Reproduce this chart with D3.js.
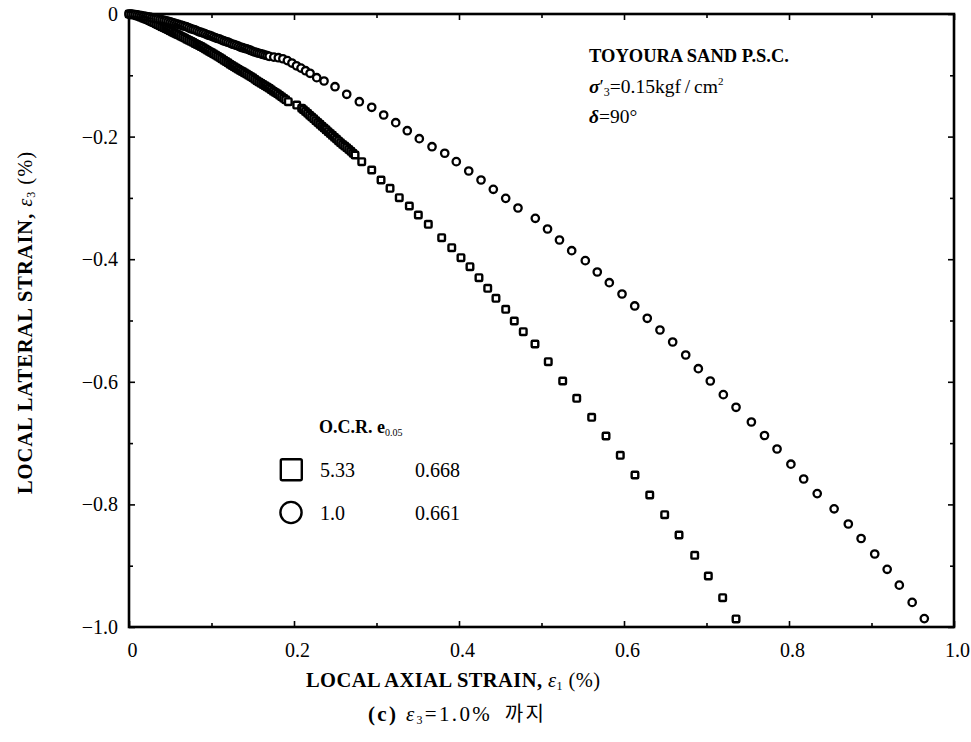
<!DOCTYPE html>
<html><head><meta charset="utf-8">
<script src="https://cdn.jsdelivr.net/npm/d3@7"></script>
<style>body{margin:0;background:#fff}</style>
</head><body>
<svg id="c" width="971" height="742" xmlns="http://www.w3.org/2000/svg"></svg>
<script>
// ---- data ----
const xTicks = [0, 0.2, 0.4, 0.6, 0.8, 1.0];
const xTickLabels = ["0", "0.2", "0.4", "0.6", "0.8", "1.0"];
const yTicks = [0, -0.2, -0.4, -0.6, -0.8, -1.0];
const yTickLabels = ["0", "\u22120.2", "\u22120.4", "\u22120.6", "\u22120.8", "\u22121.0"];
const xMinor = [0.1, 0.3, 0.5, 0.7, 0.9];
const yMinor = [-0.1, -0.3, -0.5, -0.7, -0.9];

// O.C.R. = 5.33 (squares): [axial strain e1 %, lateral strain e3 %]
const ocr533 = [
 [0.000,0.000],[0.0025,-0.0006],[0.005,-0.0012],[0.0075,-0.0018],[0.010,-0.003],[0.0125,-0.0042],
 [0.015,-0.0055],[0.0175,-0.007],[0.020,-0.008],[0.0225,-0.0095],[0.025,-0.011],[0.0275,-0.0125],
 [0.030,-0.014],[0.0325,-0.0158],[0.035,-0.0175],[0.0375,-0.0192],[0.040,-0.021],[0.0425,-0.0225],
 [0.045,-0.024],[0.0475,-0.0258],[0.050,-0.0275],[0.0525,-0.0292],[0.055,-0.031],[0.0575,-0.0325],
 [0.060,-0.034],[0.0625,-0.0358],[0.065,-0.0375],[0.0675,-0.0392],[0.070,-0.041],[0.0725,-0.0428],
 [0.075,-0.0445],[0.0775,-0.0462],[0.080,-0.048],[0.0825,-0.0498],[0.085,-0.0515],[0.0875,-0.0532],
 [0.090,-0.055],[0.0925,-0.057],[0.095,-0.059],[0.0975,-0.061],[0.100,-0.063],[0.1025,-0.065],
 [0.105,-0.067],[0.1075,-0.069],[0.110,-0.071],[0.1125,-0.0732],[0.115,-0.0755],[0.1175,-0.0775],
 [0.120,-0.0795],[0.1225,-0.0818],[0.125,-0.084],[0.1275,-0.086],[0.130,-0.088],[0.1325,-0.090],
 [0.135,-0.092],[0.1375,-0.094],[0.140,-0.096],[0.1425,-0.098],[0.145,-0.100],[0.1475,-0.102],
 [0.150,-0.104],[0.1525,-0.1065],[0.155,-0.109],[0.1575,-0.111],[0.160,-0.113],[0.1625,-0.115],
 [0.165,-0.117],[0.1675,-0.119],[0.170,-0.121],[0.1725,-0.1235],[0.175,-0.126],[0.1775,-0.128],
 [0.180,-0.130],[0.1825,-0.1325],[0.185,-0.135],[0.1875,-0.1375],[0.190,-0.140],
 [0.1931,-0.1431],[0.2033,-0.1485],
 [0.2093,-0.1538],[0.2115,-0.156],[0.214,-0.159],[0.2165,-0.162],[0.219,-0.165],[0.2215,-0.168],
 [0.224,-0.171],[0.2265,-0.174],[0.229,-0.177],[0.2315,-0.180],[0.234,-0.183],[0.2365,-0.186],
 [0.239,-0.189],[0.2415,-0.192],[0.244,-0.195],[0.2465,-0.198],[0.249,-0.201],[0.2515,-0.204],
 [0.254,-0.207],[0.2565,-0.210],[0.259,-0.213],[0.2615,-0.2155],[0.264,-0.218],[0.2665,-0.221],
 [0.269,-0.224],[0.2715,-0.227],[0.274,-0.230],
 [0.2821,-0.2409],[0.2942,-0.2545],[0.3055,-0.2708],[0.3164,-0.2843],[0.3276,-0.2997],
 [0.3398,-0.3132],[0.3507,-0.3279],[0.3628,-0.3431],[0.3790,-0.3649],[0.3912,-0.3812],
 [0.4024,-0.3975],[0.4133,-0.4122],[0.4242,-0.4302],[0.4348,-0.4475],[0.4448,-0.4638],
 [0.4566,-0.4817],[0.4670,-0.5008],[0.4779,-0.5183],[0.4921,-0.5383],[0.5082,-0.5672],
 [0.5257,-0.5987],[0.5427,-0.6269],[0.5608,-0.6579],[0.5782,-0.6884],[0.5955,-0.7199],
 [0.6133,-0.7520],[0.6312,-0.7847],[0.6493,-0.8168],[0.6667,-0.8499],[0.6857,-0.8831],
 [0.7022,-0.9168],[0.7196,-0.9522],[0.7358,-0.9869]
];

// O.C.R. = 1.0 (circles)
const ocr10 = [
 [0.000,0.000],[0.0025,-0.0003],[0.005,-0.0006],[0.0075,-0.0009],[0.010,-0.0015],[0.0125,-0.002],
 [0.015,-0.0028],[0.0175,-0.0034],[0.020,-0.004],[0.0225,-0.0045],[0.025,-0.005],[0.0275,-0.006],
 [0.030,-0.007],[0.0325,-0.0075],[0.035,-0.008],[0.0375,-0.0088],[0.040,-0.0095],[0.0425,-0.0102],
 [0.045,-0.011],[0.0475,-0.012],[0.050,-0.013],[0.0525,-0.014],[0.055,-0.015],[0.0575,-0.016],
 [0.060,-0.017],[0.0625,-0.018],[0.065,-0.019],[0.0675,-0.020],[0.070,-0.021],[0.0725,-0.0225],
 [0.075,-0.024],[0.0775,-0.025],[0.080,-0.026],[0.0825,-0.0275],[0.085,-0.029],[0.0875,-0.030],
 [0.090,-0.031],[0.0925,-0.0325],[0.095,-0.034],[0.0975,-0.035],[0.100,-0.036],[0.1025,-0.0375],
 [0.105,-0.039],[0.1075,-0.040],[0.110,-0.041],[0.1125,-0.0425],[0.115,-0.044],[0.1175,-0.045],
 [0.120,-0.046],[0.1225,-0.0475],[0.125,-0.049],[0.1275,-0.050],[0.130,-0.051],[0.1325,-0.0525],
 [0.135,-0.054],[0.1375,-0.055],[0.140,-0.056],[0.1425,-0.057],[0.145,-0.058],[0.1475,-0.0595],
 [0.150,-0.061],[0.1525,-0.062],[0.155,-0.063],[0.1575,-0.064],[0.160,-0.065],[0.1625,-0.066],
 [0.165,-0.067],[0.1675,-0.068],[0.170,-0.069],
 [0.1755,-0.0703],[0.181,-0.0713],[0.1865,-0.0730],[0.192,-0.0760],[0.1975,-0.0800],[0.203,-0.0845],
 [0.2085,-0.0882],[0.214,-0.0925],[0.2195,-0.0967],[0.2275,-0.1039],[0.2364,-0.1093],
 [0.2497,-0.1186],[0.2639,-0.1310],
 [0.2792,-0.1431],[0.2942,-0.1522],[0.3087,-0.1648],[0.3233,-0.1773],[0.3373,-0.1904],
 [0.3519,-0.2034],[0.3673,-0.2165],[0.3827,-0.2272],[0.3967,-0.2409],[0.4118,-0.2561],
 [0.4267,-0.2708],[0.4416,-0.2860],[0.4566,-0.3007],[0.4715,-0.3165],[0.4925,-0.3333],
 [0.5073,-0.3507],[0.5218,-0.3687],[0.5366,-0.3861],[0.5531,-0.4024],[0.5676,-0.4209],
 [0.5822,-0.4383],[0.5976,-0.4568],[0.6130,-0.4763],[0.6282,-0.4964],[0.6436,-0.5155],
 [0.6590,-0.5351],[0.6748,-0.5563],[0.6901,-0.5786],[0.7046,-0.5987],[0.7204,-0.6210],
 [0.7358,-0.6416],[0.7544,-0.6656],[0.7703,-0.6876],[0.7855,-0.7096],[0.8023,-0.7344],
 [0.8178,-0.7586],[0.8342,-0.7824],[0.8547,-0.8072],[0.8719,-0.8320],[0.8874,-0.8556],
 [0.9039,-0.8809],[0.9190,-0.9059],[0.9337,-0.9317],[0.9493,-0.9599],[0.9640,-0.9863]
];

const legendHeader = ["O.C.R.", "e", "0.05"];
const legendOCR = ["5.33", "1.0"];
const legendE = ["0.668", "0.661"];
const legendSym = ["square", "circle"];

const infoLines = ["TOYOURA SAND P.S.C."];
const xTitle = "LOCAL AXIAL STRAIN, ";
const yTitle = "LOCAL LATERAL STRAIN, ";
const caption = "(c) ";

// ---- drawing ----
const SERIF = "'Liberation Serif','Times New Roman',serif";
const svg = d3.select("#c");
const L = 129, R = 954, T = 14, B = 627;
const x = d3.scaleLinear().domain([0, 1]).range([L, R]);
const y = d3.scaleLinear().domain([0, -1]).range([T, B]);

function styleAxis(g) {
  g.select(".domain").remove();
  g.selectAll(".tick line").attr("stroke", "#000").attr("stroke-width", 1.6);
  g.selectAll("text").attr("font-family", SERIF).attr("font-size", 20).attr("fill", "#000");
}

// major + minor ticks, all inward
svg.append("g").attr("transform", `translate(0,${B})`)
  .call(d3.axisBottom(x).tickValues(xTicks).tickFormat((d, i) => xTickLabels[i])
    .tickSizeInner(-6).tickSizeOuter(0).tickPadding(16))
  .call(styleAxis)
  .call(g => g.selectAll("text").attr("dx", 3));
svg.append("g").attr("transform", `translate(0,${B})`)
  .call(d3.axisBottom(x).tickValues(xMinor).tickFormat("").tickSizeInner(-4).tickSizeOuter(0)).call(styleAxis);
svg.append("g").attr("transform", `translate(0,${T})`)
  .call(d3.axisTop(x).tickValues(xTicks).tickFormat("").tickSizeInner(-6).tickSizeOuter(0)).call(styleAxis);
svg.append("g").attr("transform", `translate(0,${T})`)
  .call(d3.axisTop(x).tickValues(xMinor).tickFormat("").tickSizeInner(-4).tickSizeOuter(0)).call(styleAxis);
svg.append("g").attr("transform", `translate(${L},0)`)
  .call(d3.axisLeft(y).tickValues(yTicks).tickFormat((d, i) => yTickLabels[i])
    .tickSizeInner(-6).tickSizeOuter(0).tickPadding(11))
  .call(styleAxis);
svg.append("g").attr("transform", `translate(${L},0)`)
  .call(d3.axisLeft(y).tickValues(yMinor).tickFormat("").tickSizeInner(-4).tickSizeOuter(0)).call(styleAxis);
svg.append("g").attr("transform", `translate(${R},0)`)
  .call(d3.axisRight(y).tickValues(yTicks).tickFormat("").tickSizeInner(-6).tickSizeOuter(0)).call(styleAxis);
svg.append("g").attr("transform", `translate(${R},0)`)
  .call(d3.axisRight(y).tickValues(yMinor).tickFormat("").tickSizeInner(-4).tickSizeOuter(0)).call(styleAxis);

// frame
svg.append("rect").attr("x", L).attr("y", T).attr("width", R - L).attr("height", B - T)
  .attr("fill", "none").attr("stroke", "#000").attr("stroke-width", 2.6);

// markers
const SQ = 6.6;
svg.append("g").selectAll("rect").data(ocr533).join("rect")
  .attr("x", d => x(d[0]) - SQ / 2).attr("y", d => y(d[1]) - SQ / 2)
  .attr("width", SQ).attr("height", SQ).attr("rx", 1)
  .attr("fill", "#fff").attr("stroke", "#000").attr("stroke-width", 2.4);
svg.append("g").selectAll("circle").data(ocr10).join("circle")
  .attr("cx", d => x(d[0])).attr("cy", d => y(d[1])).attr("r", 3.7)
  .attr("fill", "#fff").attr("stroke", "#000").attr("stroke-width", 2.3);

// info text
const info = svg.append("g").attr("font-family", SERIF).attr("fill", "#000");
info.append("text").attr("x", 589).attr("y", 62).attr("font-size", 18.5).attr("font-weight", "bold")
  .text(infoLines[0]);
const s2 = info.append("text").attr("x", 589).attr("y", 93).attr("font-size", 19.5);
s2.append("tspan").attr("font-style", "italic").attr("font-weight", "bold").text("\u03c3");
s2.append("tspan").text("\u2032");
s2.append("tspan").attr("font-size", 12).attr("dy", 3).text("3");
s2.append("tspan").attr("dy", -3).text("=0.15kgf\u2009/\u2009cm");
s2.append("tspan").attr("font-size", 11).attr("dy", -8).text("2");
const s3 = info.append("text").attr("x", 589).attr("y", 123).attr("font-size", 19.5);
s3.append("tspan").attr("font-style", "italic").attr("font-weight", "bold").text("\u03b4");
s3.append("tspan").text("=90\u00b0");

// legend
const leg = svg.append("g").attr("font-family", SERIF).attr("fill", "#000");
const lh = leg.append("text").attr("x", 319).attr("y", 433).attr("font-size", 18).attr("font-weight", "bold");
lh.append("tspan").text(legendHeader[0] + " ");
lh.append("tspan").text(legendHeader[1]);
lh.append("tspan").attr("font-size", 10).attr("dy", 3).attr("font-weight", "normal").text(legendHeader[2]);
const rowY = [469.7, 512.5];
legendSym.forEach((s, i) => {
  if (s === "square") {
    leg.append("rect").attr("x", 291.3 - 10.5).attr("y", rowY[i] - 10.5).attr("width", 21).attr("height", 21)
      .attr("rx", 1.5).attr("fill", "none").attr("stroke", "#000").attr("stroke-width", 2.4);
  } else {
    leg.append("circle").attr("cx", 291).attr("cy", rowY[i]).attr("r", 10.6)
      .attr("fill", "none").attr("stroke", "#000").attr("stroke-width", 2.4);
  }
  leg.append("text").attr("x", 320).attr("y", rowY[i] + 7).attr("font-size", 20).text(legendOCR[i]);
  leg.append("text").attr("x", 415).attr("y", rowY[i] + 7).attr("font-size", 20).text(legendE[i]);
});

// axis titles
const xt = svg.append("text").attr("x", 306).attr("y", 687)
  .attr("textLength", 294).attr("lengthAdjust", "spacing")
  .attr("font-family", SERIF).attr("font-size", 20.5).attr("font-weight", "bold");
xt.append("tspan").text(xTitle);
xt.append("tspan").attr("font-weight", "normal").attr("font-style", "italic").text("\u03b5");
xt.append("tspan").attr("font-size", 12).attr("dy", 3).attr("font-weight", "normal").text("1");
xt.append("tspan").attr("dy", -3).attr("font-weight", "normal").text(" (%)");

const yt = svg.append("text").attr("transform", "translate(32,494) rotate(-90)")
  .attr("textLength", 342).attr("lengthAdjust", "spacing")
  .attr("font-family", SERIF).attr("font-size", 20.5).attr("font-weight", "bold");
yt.append("tspan").text(yTitle);
yt.append("tspan").attr("font-weight", "normal").attr("font-style", "italic").text("\u03b5");
yt.append("tspan").attr("font-size", 12).attr("dy", 3).attr("font-weight", "normal").text("3");
yt.append("tspan").attr("dy", -3).attr("font-weight", "normal").text(" (%)");

const cp = svg.append("text").attr("x", 368).attr("y", 721)
  .attr("textLength", 176).attr("lengthAdjust", "spacing")
  .attr("font-family", SERIF).attr("font-size", 21).attr("font-weight", "bold");
cp.append("tspan").text(caption);
cp.append("tspan").attr("font-style", "italic").attr("font-weight", "normal").text("\u03b5");
cp.append("tspan").attr("font-size", 12).attr("dy", 3).attr("font-weight", "normal").text("3");
cp.append("tspan").attr("dy", -3).attr("font-weight", "normal").text("=1.0%\u2002");
cp.append("tspan").attr("font-family", "'Noto Sans CJK KR'").attr("font-size", 20).attr("font-weight", "normal").text("\uae4c\uc9c0");
</script>
</body></html>
